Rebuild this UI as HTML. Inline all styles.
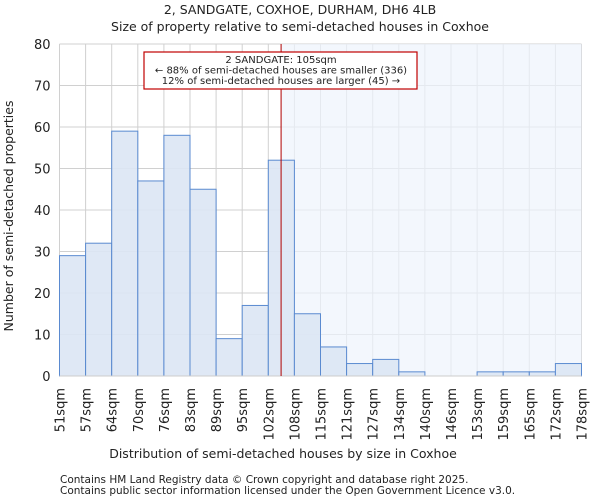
<!DOCTYPE html>
<html><head><meta charset="utf-8"><style>
body{margin:0;background:#fff;font-family:"DejaVu Sans","Liberation Sans",sans-serif;}
svg text{font-family:"DejaVu Sans","Liberation Sans",sans-serif;fill:#222;}
</style></head><body>
<svg id="chart" width="600" height="500" xmlns="http://www.w3.org/2000/svg">
<text x="300" y="14" text-anchor="middle" font-size="12.5">2, SANDGATE, COXHOE, DURHAM, DH6 4LB</text>
<text x="300" y="31" text-anchor="middle" font-size="12.5">Size of property relative to semi-detached houses in Coxhoe</text>
<g id="grid"></g>
<g id="shade"></g>
<g id="bars"></g>
<g id="axes"></g>
<text x="283" y="458" text-anchor="middle" font-size="12.5">Distribution of semi-detached houses by size in Coxhoe</text>
<text transform="translate(13,216) rotate(-90)" text-anchor="middle" font-size="12.5">Number of semi-detached properties</text>
<text x="60" y="483" font-size="10.5" fill="#444">Contains HM Land Registry data © Crown copyright and database right 2025.</text>
<text x="60" y="494" font-size="10.5" fill="#444">Contains public sector information licensed under the Open Government Licence v3.0.</text>
</svg>
<script>
const binLabels=["51sqm","57sqm","64sqm","70sqm","76sqm","83sqm","89sqm","95sqm","102sqm","108sqm","115sqm","121sqm","127sqm","134sqm","140sqm","146sqm","153sqm","159sqm","165sqm","172sqm","178sqm"];
const counts=[29,32,59,47,58,45,9,17,52,15,7,3,4,1,0,0,1,1,1,3];
const yTicks=[0,10,20,30,40,50,60,70,80];
const markerBin=8.49;
const NS="http://www.w3.org/2000/svg";
const X0=59.5,X1=581.5,Y0=376,Y1=44,YMAX=80;
const bw=(X1-X0)/counts.length;
const xs=i=>X0+i*bw;
const ys=v=>Y0-(v/YMAX)*(Y0-Y1);
function mk(parent,tag,attrs){const e=document.createElementNS(NS,tag);for(const k in attrs)e.setAttribute(k,attrs[k]);document.getElementById(parent).appendChild(e);return e;}
const grid="grid";
yTicks.forEach(t=>{
  const l=mk(grid,"line",{x1:X0,x2:X1,y1:ys(t),y2:ys(t),stroke:"#d0d0d0","stroke-width":1});
  
  
  const tx=mk("axes","text",{x:X0-9,y:ys(t)+5,"text-anchor":"end","font-size":"13"});
  tx.textContent=t;
  
  
});
binLabels.forEach((lab,i)=>{
  const l=mk(grid,"line",{x1:xs(i),x2:xs(i),y1:Y1,y2:Y0,stroke:"#d0d0d0","stroke-width":1});
  
  
  const tx=mk("axes","text",{transform:`translate(${xs(i)+5},388) rotate(-90)`,"text-anchor":"end","font-size":"13"});
  tx.textContent=lab;
  
  
});
const mx=xs(markerBin);
const sh=mk("shade","rect",{x:mx,y:Y1,width:X1-mx,height:Y0-Y1,fill:"#eef3fc","fill-opacity":0.7});


counts.forEach((c,i)=>{
  if(c<=0)return;
  const r=mk("bars","rect",{x:xs(i),y:ys(c),width:bw,height:Y0-ys(c),fill:"#dce5f4",stroke:"#5a8ad0","stroke-width":1,"fill-opacity":0.9});
  
  
});
const ax=mk("axes","line",{x1:X0,x2:X1,y1:Y0,y2:Y0,stroke:"#ccc"});


const ml=mk("axes","line",{x1:mx,x2:mx,y1:Y1,y2:Y0,stroke:"#b00000","stroke-width":1});


const box=mk("axes","rect",{x:144,y:52,width:273,height:37,fill:"#fff",stroke:"#c00000","stroke-width":1.2});


const lines=["2 SANDGATE: 105sqm","← 88% of semi-detached houses are smaller (336)","12% of semi-detached houses are larger (45) →"];
lines.forEach((s,k)=>{
  const t=mk("axes","text",{x:281,y:63+k*10.5,"text-anchor":"middle","font-size":"10"});
  t.textContent=s;
  
  
});
</script>
</body></html>
